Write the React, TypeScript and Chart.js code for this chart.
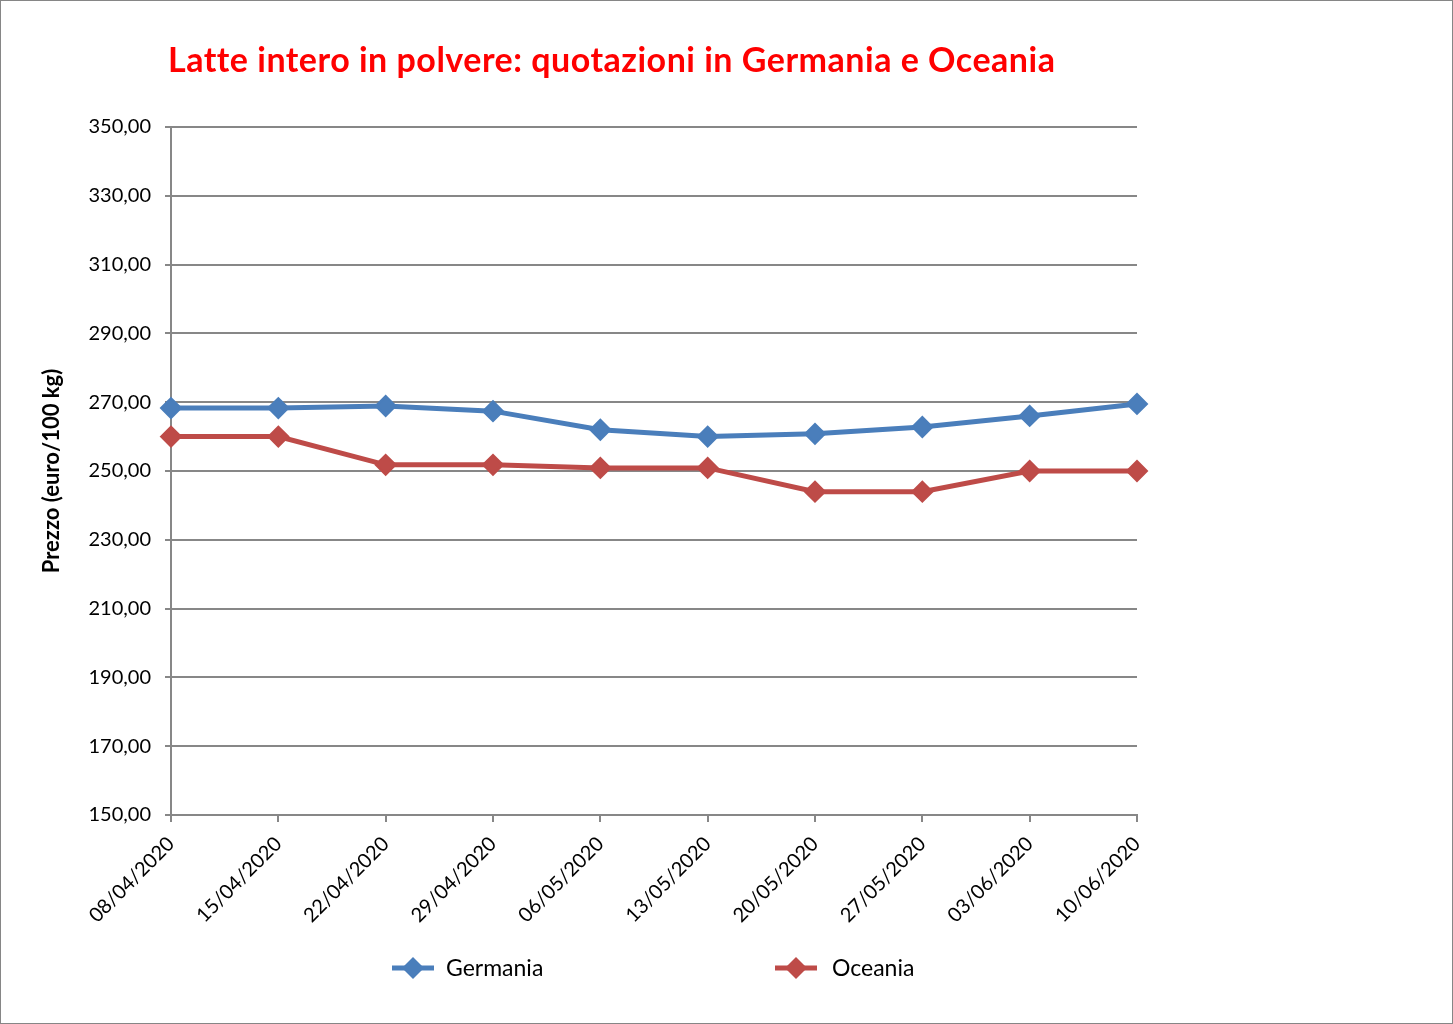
import React, { useEffect, useRef } from "react";
import { Chart, registerables } from "chart.js";

Chart.register(...registerables);

const chartTitle = "Latte intero in polvere: quotazioni in Germania e Oceania";
const yAxisTitle = "Prezzo (euro/100 kg)";
const categories = [
  "08/04/2020", "15/04/2020", "22/04/2020", "29/04/2020", "06/05/2020",
  "13/05/2020", "20/05/2020", "27/05/2020", "03/06/2020", "10/06/2020",
];
const germania = [268.3, 268.3, 268.9, 267.4, 262.0, 260.0, 260.8, 262.8, 266.0, 269.5];
const oceania = [260.0, 260.0, 251.8, 251.8, 250.9, 250.9, 244.0, 244.0, 250.0, 250.0];
const seriesNames = ["Germania", "Oceania"];
const yMin = 150;
const yMax = 350;
const yStep = 20;

const FONT = "Lato, 'Open Sans', sans-serif";
const BLUE = "#4A7EBB";
const RED = "#BE4B48";
const GRID = "#878787";

const titlePlugin = {
  id: "customTitle",
  afterDraw(chart: any) {
    const ctx = chart.ctx;
    ctx.save();
    ctx.font = `bold 34px ${FONT}`;
    try {
      (ctx as any).letterSpacing = "0.5px";
    } catch (e) {}
    ctx.fillStyle = "#FF0000";
    ctx.textAlign = "left";
    ctx.textBaseline = "alphabetic";
    ctx.fillText(chartTitle, 167, 71);
    ctx.restore();
  },
};

const legendPlugin = {
  id: "customLegend",
  afterDraw(chart: any) {
    const ctx = chart.ctx;
    const starts = [391, 774];
    const textOffsets = [54, 57];
    const y = 967;
    chart.data.datasets.forEach((ds: any, i: number) => {
      const x0 = starts[i];
      ctx.save();
      ctx.strokeStyle = ds.borderColor;
      ctx.lineWidth = 5;
      ctx.beginPath();
      ctx.moveTo(x0, y);
      ctx.lineTo(x0 + 42, y);
      ctx.stroke();
      ctx.fillStyle = ds.backgroundColor;
      ctx.beginPath();
      const cx = x0 + 21;
      const r = 11;
      ctx.moveTo(cx - r, y);
      ctx.lineTo(cx, y - r);
      ctx.lineTo(cx + r, y);
      ctx.lineTo(cx, y + r);
      ctx.closePath();
      ctx.fill();
      ctx.fillStyle = "#000";
      ctx.font = `23px ${FONT}`;
      ctx.textBaseline = "middle";
      ctx.textAlign = "left";
      ctx.fillText(ds.label, x0 + textOffsets[i], y + 1);
      ctx.restore();
    });
  },
};

export default function App() {
  const ref = useRef<HTMLCanvasElement | null>(null);
  useEffect(() => {
    if (!ref.current) return;
    const chart = new Chart(ref.current, {
      type: "line",
      data: {
        labels: categories,
        datasets: [
          {
            label: seriesNames[0],
            data: germania,
            borderColor: BLUE,
            backgroundColor: BLUE,
            pointBackgroundColor: BLUE,
            pointBorderColor: BLUE,
            borderWidth: 5,
            pointStyle: "rectRot",
            pointRadius: 10,
            pointBorderWidth: 2,
            tension: 0,
          },
          {
            label: seriesNames[1],
            data: oceania,
            borderColor: RED,
            backgroundColor: RED,
            pointBackgroundColor: RED,
            pointBorderColor: RED,
            borderWidth: 5,
            pointStyle: "rectRot",
            pointRadius: 10,
            pointBorderWidth: 2,
            tension: 0,
          },
        ],
      },
      options: {
        animation: false,
        responsive: false,
        maintainAspectRatio: false,
        layout: { padding: { left: 33, right: 315, top: 126, bottom: 88 } },
        plugins: {
          legend: { display: false },
          title: { display: false },
          tooltip: { enabled: false },
        },
        scales: {
          x: {
            type: "category",
            offset: false,
            afterFit: (s: any) => {
              s.height = 120;
            },
            grid: {
              display: true,
              drawOnChartArea: false,
              drawTicks: true,
              tickLength: 7,
              color: GRID,
              lineWidth: 2,
            },
            border: { display: true, color: GRID, width: 2 },
            ticks: {
              autoSkip: false,
              minRotation: 45,
              maxRotation: 45,
              padding: 10,
              color: "#000",
              font: { family: FONT, size: 20 },
            },
          },
          y: {
            min: yMin,
            max: yMax,
            afterFit: (s: any) => {
              s.width = 137;
            },
            grid: {
              color: GRID,
              lineWidth: 2,
              drawTicks: true,
              tickLength: 6,
            },
            border: { display: true, color: GRID, width: 2 },
            ticks: {
              stepSize: yStep,
              padding: 14,
              color: "#000",
              font: { family: FONT, size: 20 },
              callback: (v: any) => Number(v).toFixed(2).replace(".", ","),
            },
            title: {
              display: true,
              text: yAxisTitle,
              color: "#000",
              font: { family: FONT, size: 22, weight: "bold" },
              padding: { top: 5, bottom: 0 },
            },
          },
        },
      },
      plugins: [titlePlugin, legendPlugin],
    });
    return () => chart.destroy();
  }, []);

  return (
    <div
      style={{
        position: "absolute",
        left: 0,
        top: 0,
        width: 1453,
        height: 1024,
        boxSizing: "border-box",
        border: "1px solid #868686",
        background: "#fff",
      }}
    >
      <canvas ref={ref} width={1451} height={1022} style={{ display: "block", width: 1451, height: 1022 }} />
    </div>
  );
}
